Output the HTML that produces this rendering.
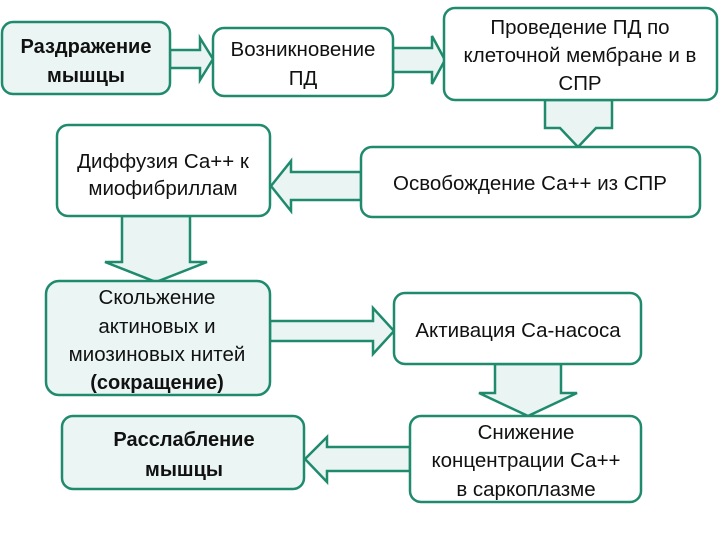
<!DOCTYPE html>
<html><head><meta charset="utf-8"><style>
html,body{margin:0;padding:0;background:#fff;width:720px;height:540px;overflow:hidden}
text{font-family:"Liberation Sans","DejaVu Sans",sans-serif;font-size:20.5px;fill:#111;text-anchor:middle}
.b{font-weight:bold;font-size:20px}
</style></head><body>
<svg width="720" height="540" xmlns="http://www.w3.org/2000/svg">
<g stroke="#1f8a6c" stroke-width="2.5" fill="#e9f4f3" stroke-linejoin="miter">
<polygon points="170,50 200,50 200,38 213,59 200,80 200,68 170,68"/>
<polygon points="393,48 432,48 432,36 445,60 432,84 432,72 393,72"/>
<polygon points="545,100 612,100 612,128 596,128 578,147 560,128 545,128"/>
<polygon points="361,172 291,172 291,161 271,186 291,211 291,200 361,200"/>
<polygon points="122,216 190,216 190,262 207,262 156,282 105,262 122,262"/>
<polygon points="270,321 373,321 373,308 394,331 373,354 373,341 270,341"/>
<polygon points="495,364 561,364 561,393 577,393 528,416 479,393 495,393"/>
<polygon points="410,447 327,447 327,437 305,459 327,482 327,471 410,471"/>
<rect x="2" y="22" width="168" height="72" rx="11" fill="#eaf5f4"/>
<rect x="213" y="28" width="180" height="68" rx="11" fill="#fff"/>
<rect x="444" y="8" width="273" height="92" rx="11" fill="#fff"/>
<rect x="57" y="125" width="213" height="91" rx="11" fill="#fff"/>
<rect x="361" y="147" width="339" height="70" rx="11" fill="#fff"/>
<rect x="46" y="281" width="224" height="114" rx="13" fill="#eaf5f4"/>
<rect x="394" y="293" width="247" height="71" rx="11" fill="#fff"/>
<rect x="62" y="416" width="242" height="73" rx="11" fill="#eaf5f4"/>
<rect x="410" y="416" width="231" height="86" rx="11" fill="#fff"/>
</g>
<text class="b" x="86" y="53">Раздражение</text>
<text class="b" x="86" y="82">мышцы</text>
<text x="303" y="56">Возникновение</text>
<text x="303" y="85">ПД</text>
<text x="580" y="34">Проведение ПД по</text>
<text x="580" y="62">клеточной мембране и в</text>
<text x="580" y="90">СПР</text>
<text x="163" y="168">Диффузия Са++ к</text>
<text x="163" y="195">миофибриллам</text>
<text x="530" y="190">Освобождение Са++ из СПР</text>
<text x="157" y="304">Скольжение</text>
<text x="157" y="333">актиновых и</text>
<text x="157" y="361">миозиновых нитей</text>
<text class="b" x="157" y="389">(сокращение)</text>
<text x="518" y="337">Активация Са-насоса</text>
<text class="b" x="184" y="446">Расслабление</text>
<text class="b" x="184" y="476">мышцы</text>
<text x="526" y="439">Снижение</text>
<text x="526" y="467">концентрации Са++</text>
<text x="526" y="496">в саркоплазме</text>
</svg>
</body></html>
